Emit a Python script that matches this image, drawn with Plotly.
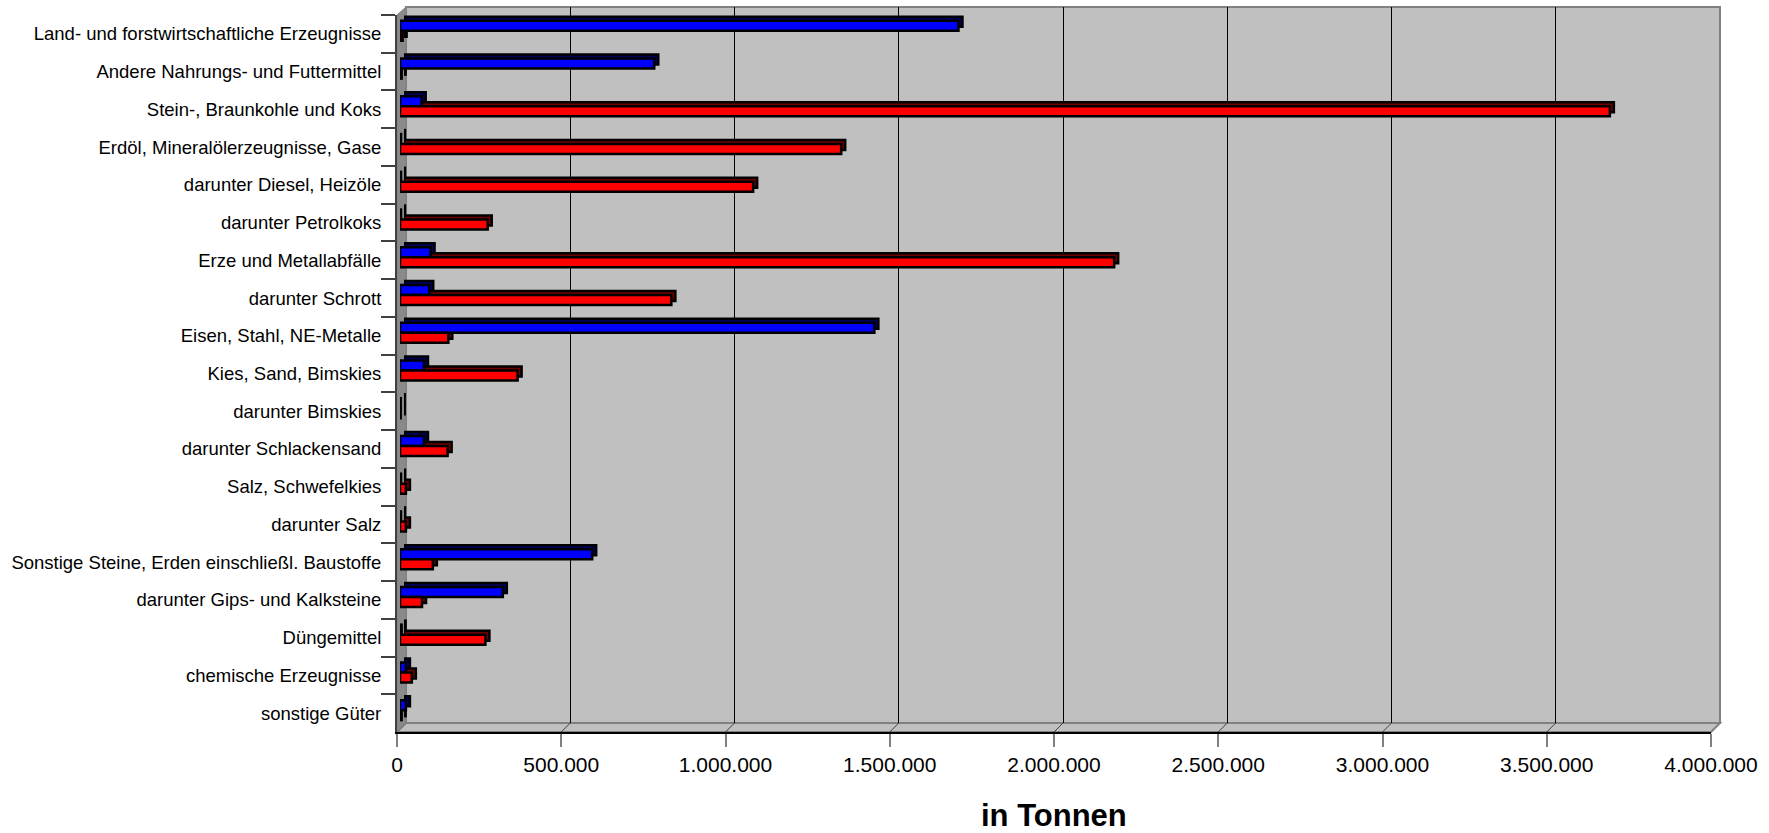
import plotly.graph_objects as go

# Güterabteilungen (top to bottom)
categories = [
    "Land- und forstwirtschaftliche Erzeugnisse",
    "Andere Nahrungs- und Futtermittel",
    "Stein-, Braunkohle und Koks",
    "Erdöl, Mineralölerzeugnisse, Gase",
    "darunter Diesel, Heizöle",
    "darunter Petrolkoks",
    "Erze und Metallabfälle",
    "darunter Schrott",
    "Eisen, Stahl, NE-Metalle",
    "Kies, Sand, Bimskies",
    "darunter Bimskies",
    "darunter Schlackensand",
    "Salz, Schwefelkies",
    "darunter Salz",
    "Sonstige Steine, Erden einschließl. Baustoffe",
    "darunter Gips- und Kalksteine",
    "Düngemittel",
    "chemische Erzeugnisse",
    "sonstige Güter",
]

# tonnes per category
blue_values = [1700000, 774000, 66000, 3000, 3000, 3000, 93000, 89000, 1444000, 73000,
               2000, 73000, 3000, 3000, 585000, 313000, 5000, 18000, 18000]
red_values = [8000, 5000, 3683000, 1343000, 1075000, 267000, 2174000, 826000, 147000, 358000,
              2000, 145000, 18000, 18000, 100000, 67000, 260000, 36000, 5000]

x_ticks = [0, 500000, 1000000, 1500000, 2000000, 2500000, 3000000, 3500000, 4000000]
x_max = 4000000

W, H = 1769, 833
FONT = "Liberation Sans, Arial, sans-serif"


def fx(p):
    return p / W


def fy(p):
    return 1 - p / H


def dom_x(a, b):
    return [fx(a), fx(b)]


def dom_y(top, bottom):
    return [fy(bottom), fy(top)]


n = len(categories)
cat_range = [n - 0.5, -0.5]

fig = go.Figure()

# empty traces so every subplot gets drawn
fig.add_trace(go.Scatter(x=[], y=[], xaxis="x", yaxis="y", showlegend=False, hoverinfo="skip"))
fig.add_trace(go.Scatter(x=[0] * n, y=categories, mode="none", xaxis="x2", yaxis="y2",
                         showlegend=False, hoverinfo="skip"))

# extruded depth of the bars (drawn behind the front faces)
for vals, side in ((blue_values, "#000060"), (red_values, "#700000")):
    fig.add_trace(go.Bar(
        x=vals, y=categories, orientation="h", xaxis="x3", yaxis="y3",
        marker=dict(color=side, line=dict(color="black", width=2.5)),
        showlegend=False, cliponaxis=False, hoverinfo="skip",
    ))

# front faces
for vals, face in ((blue_values, "#0000ff"), (red_values, "#ff0000")):
    fig.add_trace(go.Bar(
        x=vals, y=categories, orientation="h", xaxis="x4", yaxis="y4",
        marker=dict(color=face, line=dict(color="black", width=2.5)),
        showlegend=False, cliponaxis=False,
    ))

hidden_x = dict(range=[0, x_max], showgrid=False, zeroline=False, showticklabels=False,
                ticks="", showline=False, fixedrange=True, automargin=False)
hidden_y = dict(type="category", range=cat_range, showgrid=False, zeroline=False,
                showticklabels=False, ticks="", showline=False, fixedrange=True,
                automargin=False)

fig.update_layout(
    width=W, height=H,
    margin=dict(l=0, r=0, t=0, b=0, pad=0, autoexpand=False),
    paper_bgcolor="white",
    plot_bgcolor="rgba(0,0,0,0)",
    barmode="group",
    bargap=0.47,
    bargroupgap=0,
    showlegend=False,
    separators=",.",
    font=dict(family=FONT, color="black"),
    # back wall with gridlines
    xaxis=dict(hidden_x, domain=dom_x(406, 1720), anchor="y", showgrid=True,
               gridcolor="black", gridwidth=1,
               tickvals=x_ticks[1:-1]),
    yaxis=dict(hidden_y, domain=dom_y(7, 723), anchor="x"),
    # front axes with ticks and labels
    xaxis2=dict(domain=dom_x(397, 1711), anchor="y2", range=[0, x_max],
                tickvals=x_ticks, tickformat=",d", ticks="outside", ticklen=13,
                tickwidth=2, tickcolor="#808080", showgrid=False, zeroline=False,
                showline=True, linecolor="black", linewidth=2, automargin=False,
                tickfont=dict(size=21, family=FONT, color="black"), fixedrange=True),
    yaxis2=dict(domain=dom_y(15, 732), anchor="x2", type="category", range=cat_range,
                tickson="boundaries", ticks="outside", ticklen=14, tickwidth=1.5,
                tickcolor="#404040", showgrid=False, zeroline=False, showline=True,
                linecolor="#404040", linewidth=2, automargin=False,
                ticklabelstandoff=10,
                tickfont=dict(size=18.5, family=FONT, color="black"), fixedrange=True),
    xaxis3=dict(hidden_x, domain=dom_x(404, 1718), anchor="y3"),
    yaxis3=dict(hidden_y, domain=dom_y(8, 725), anchor="x3"),
    xaxis4=dict(hidden_x, domain=dom_x(400, 1714), anchor="y4"),
    yaxis4=dict(hidden_y, domain=dom_y(12, 729), anchor="x4"),
)

shapes = [
    # back wall
    dict(type="rect", xref="paper", yref="paper", layer="below",
         x0=fx(406), x1=fx(1720), y0=fy(723), y1=fy(7),
         fillcolor="#c0c0c0", line=dict(color="#808080", width=2)),
    # left side wall
    dict(type="path", xref="paper", yref="paper", layer="below",
         path=f"M {fx(397)} {fy(15)} L {fx(406)} {fy(7)} L {fx(406)} {fy(723)} L {fx(397)} {fy(732)} Z",
         fillcolor="#8a8a8a", line=dict(color="#808080", width=1)),
    # floor
    dict(type="path", xref="paper", yref="paper", layer="below",
         path=f"M {fx(397)} {fy(732)} L {fx(406)} {fy(723)} L {fx(1720)} {fy(723)} L {fx(1711)} {fy(732)} Z",
         fillcolor="#c0c0c0", line=dict(color="#808080", width=2)),
]
# gridline continuation across the floor
for v in x_ticks[1:-1]:
    shapes.append(dict(type="line", xref="x2", yref="paper", xsizemode="pixel", xanchor=v,
                       x0=0, x1=9, y0=fy(732), y1=fy(723),
                       line=dict(color="#404040", width=1)))
fig.update_layout(shapes=shapes)

fig.add_annotation(text="<b>in Tonnen</b>", xref="paper", yref="paper",
                   x=fx(1054), y=fy(815), xanchor="center", yanchor="middle",
                   showarrow=False, font=dict(size=31, family=FONT, color="black"))

fig.write_html("out.html")
